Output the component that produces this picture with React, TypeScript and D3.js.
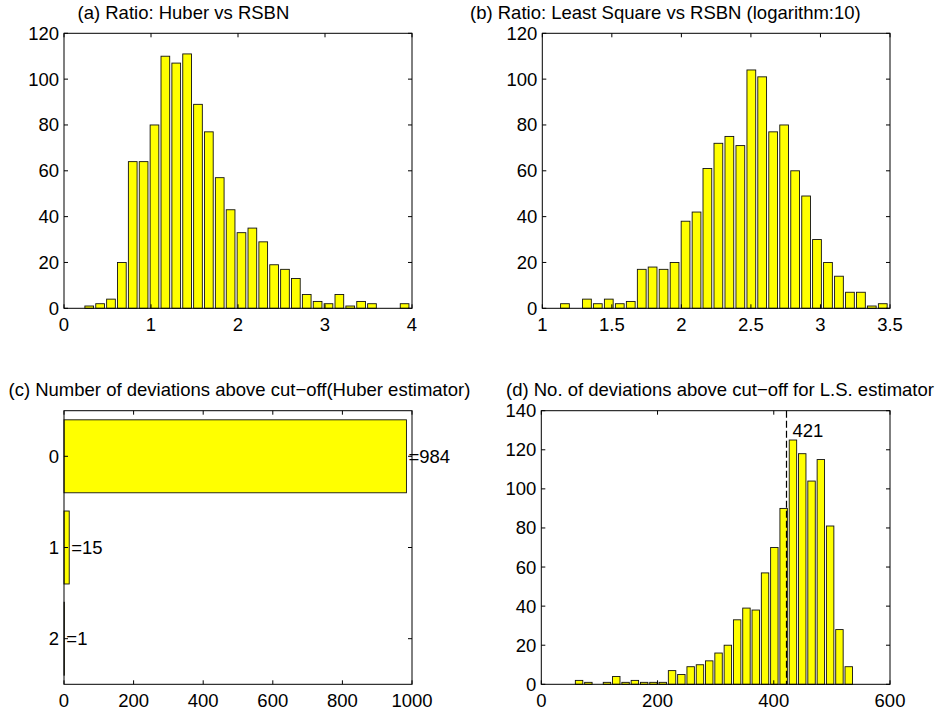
import React from "react";
import * as d3 from "d3";

// (a) Huber / RSBN ratio histogram
const huberCenters = [0.29, 0.415, 0.54, 0.665, 0.79, 0.915, 1.04, 1.165, 1.29, 1.415, 1.54, 1.665, 1.79, 1.915, 2.04, 2.165, 2.29, 2.415, 2.54, 2.665, 2.79, 2.915, 3.04, 3.165, 3.29, 3.415, 3.54, 3.665, 3.79, 3.915];
const huberCounts = [1, 2, 4, 20, 64, 64, 80, 110, 107, 111, 89, 77, 57, 43, 33, 35, 29, 19, 17, 13, 6, 3, 2, 6, 1, 3, 2, 0, 0, 2];
const huberBinWidth = 0.125;

// (b) Least square / RSBN ratio histogram (log10)
const lsCenters = [1.163, 1.242, 1.321, 1.399, 1.478, 1.557, 1.636, 1.715, 1.793, 1.872, 1.951, 2.03, 2.109, 2.187, 2.266, 2.345, 2.424, 2.503, 2.581, 2.66, 2.739, 2.818, 2.897, 2.975, 3.054, 3.133, 3.212, 3.291, 3.369, 3.448];
const lsCounts = [2, 0, 4, 2, 4, 2, 3, 17, 18, 17, 20, 38, 42, 61, 72, 75, 71, 104, 101, 77, 80, 60, 49, 30, 20, 14, 7, 7, 1, 2];
const lsBinWidth = 0.0788;

// (c) deviations above cut-off, Huber estimator
const cutoffCategories = [0, 1, 2];
const cutoffCounts = [984, 15, 1];

// (d) deviations above cut-off, L.S. estimator
const devCenters = [65, 81, 97, 113, 129, 145, 161, 177, 193, 209, 225, 241, 257, 273, 289, 305, 321, 337, 353, 369, 385, 401, 417, 433, 449, 465, 481, 497, 513, 529];
const devCounts = [2, 1, 0, 1, 4, 1, 2, 1, 1, 1, 7, 5, 9, 10, 12, 16, 20, 33, 39, 38, 57, 70, 90, 125, 118, 104, 115, 81, 28, 9];
const devBinWidth = 16;
const devMarker = 421;

// Axis ticks
const ticksAx = [0, 1, 2, 3, 4];
const ticksBx = [1, 1.5, 2, 2.5, 3, 3.5];
const ticksCx = [0, 200, 400, 600, 800, 1000];
const ticksDx = [0, 200, 400, 600];
const ticksCountY = [0, 20, 40, 60, 80, 100, 120];
const ticksDy = [0, 20, 40, 60, 80, 100, 120, 140];

const titleA = "(a) Ratio: Huber vs RSBN";
const titleB = "(b) Ratio: Least Square vs RSBN (logarithm:10)";
const titleC = "(c) Number of deviations above cut\u2212off(Huber estimator)";
const titleD = "(d) No. of deviations above cut\u2212off for L.S. estimator";

const FONT = "'Liberation Sans', Arial, Helvetica, sans-serif";
const FS = 18.5;
const BAR_FILL = "#ffff00";
const BAR_STROKE = "#111";
const TICK = 4;

type FrameProps = {
  left: number; right: number; top: number; bottom: number;
  x: d3.ScaleLinear<number, number>;
  y: d3.ScaleLinear<number, number>;
  xTicks: number[]; yTicks: number[];
  title: string; titleX: number; titleY: number;
  children?: React.ReactNode;
};

function Frame({ left, right, top, bottom, x, y, xTicks, yTicks, title, titleX, titleY, children }: FrameProps) {
  return (
    <g>
      <text x={titleX} y={titleY} fontSize={FS} fontFamily={FONT} fill="#000">{title}</text>
      {children}
      {xTicks.map((t) => (
        <g key={"xt" + t}>
          <line x1={x(t)} x2={x(t)} y1={bottom} y2={bottom - TICK} stroke="#000" />
          <line x1={x(t)} x2={x(t)} y1={top} y2={top + TICK} stroke="#000" />
          <text x={x(t)} y={bottom + 22.5} textAnchor="middle" fontSize={FS} fontFamily={FONT}>{t}</text>
        </g>
      ))}
      {yTicks.map((t) => (
        <g key={"yt" + t}>
          <line x1={left} x2={left + TICK} y1={y(t)} y2={y(t)} stroke="#000" />
          <line x1={right} x2={right - TICK} y1={y(t)} y2={y(t)} stroke="#000" />
          <text x={left - 5} y={y(t) + 6.5} textAnchor="end" fontSize={FS} fontFamily={FONT}>{t}</text>
        </g>
      ))}
      <rect x={left} y={top} width={right - left} height={bottom - top} fill="none" stroke="#000" strokeWidth={1} />
    </g>
  );
}

function VBars({ centers, counts, width, x, y }: { centers: number[]; counts: number[]; width: number; x: d3.ScaleLinear<number, number>; y: d3.ScaleLinear<number, number> }) {
  return (
    <g>
      {centers.map((c, i) => {
        const x0 = x(c - width * 0.4);
        const x1 = x(c + width * 0.4);
        const yTop = y(counts[i]);
        return (
          <rect key={i} x={x0} y={yTop} width={x1 - x0} height={y(0) - yTop}
            fill={BAR_FILL} stroke={BAR_STROKE} strokeWidth={0.9} />
        );
      })}
    </g>
  );
}

export default function App() {
  // Panel geometry
  const A = { left: 64, right: 412, top: 33.3, bottom: 308.3 };
  const B = { left: 542.3, right: 890, top: 33.3, bottom: 308.3 };
  const C = { left: 64, right: 412, top: 410.7, bottom: 684.3 };
  const D = { left: 541.3, right: 890, top: 410.7, bottom: 684.3 };

  const xA = d3.scaleLinear().domain([0, 4]).range([A.left, A.right]);
  const yA = d3.scaleLinear().domain([0, 120]).range([A.bottom, A.top]);
  const xB = d3.scaleLinear().domain([1, 3.5]).range([B.left, B.right]);
  const yB = d3.scaleLinear().domain([0, 120]).range([B.bottom, B.top]);
  const xC = d3.scaleLinear().domain([0, 1000]).range([C.left, C.right]);
  const yC = d3.scaleLinear().domain([-0.5, 2.5]).range([C.top, C.bottom]);
  const xD = d3.scaleLinear().domain([0, 600]).range([D.left, D.right]);
  const yD = d3.scaleLinear().domain([0, 140]).range([D.bottom, D.top]);

  const band = 0.8;
  const markerX = Math.round(xD(devMarker)) + 0.5;

  return (
    <svg width={935} height={717} viewBox="0 0 935 717"
      style={{ position: "absolute", left: 0, top: 0, background: "#fff" }}>
      <rect x={0} y={0} width={935} height={717} fill="#fff" />

      <Frame {...A} x={xA} y={yA} xTicks={ticksAx} yTicks={ticksCountY} title={titleA} titleX={77.5} titleY={18.7}>
        <VBars centers={huberCenters} counts={huberCounts} width={huberBinWidth} x={xA} y={yA} />
      </Frame>

      <Frame {...B} x={xB} y={yB} xTicks={ticksBx} yTicks={ticksCountY} title={titleB} titleX={470} titleY={18.7}>
        <VBars centers={lsCenters} counts={lsCounts} width={lsBinWidth} x={xB} y={yB} />
      </Frame>

      <Frame {...C} x={xC} y={yC} xTicks={ticksCx} yTicks={cutoffCategories} title={titleC} titleX={8.5} titleY={396}>
        {cutoffCategories.map((cat, i) => {
          const y0 = yC(cat - band / 2);
          const y1 = yC(cat + band / 2);
          return (
            <g key={cat}>
              <rect x={xC(0)} y={y0} width={xC(cutoffCounts[i]) - xC(0)} height={y1 - y0}
                fill={BAR_FILL} stroke={BAR_STROKE} strokeWidth={0.9} />
              <text x={xC(cutoffCounts[i]) + 2} y={yC(cat) + 6.5} fontSize={FS} fontFamily={FONT}>
                {"=" + cutoffCounts[i]}
              </text>
            </g>
          );
        })}
      </Frame>

      <Frame {...D} x={xD} y={yD} xTicks={ticksDx} yTicks={ticksDy} title={titleD} titleX={506} titleY={396}>
        <VBars centers={devCenters} counts={devCounts} width={devBinWidth} x={xD} y={yD} />
        <line x1={markerX} x2={markerX} y1={D.top} y2={D.bottom}
          stroke="#000" strokeWidth={1.2} strokeDasharray="7,3" />
        <text x={xD(devMarker) + 6.5} y={436.7} fontSize={FS} fontFamily={FONT}>{devMarker}</text>
      </Frame>
    </svg>
  );
}
